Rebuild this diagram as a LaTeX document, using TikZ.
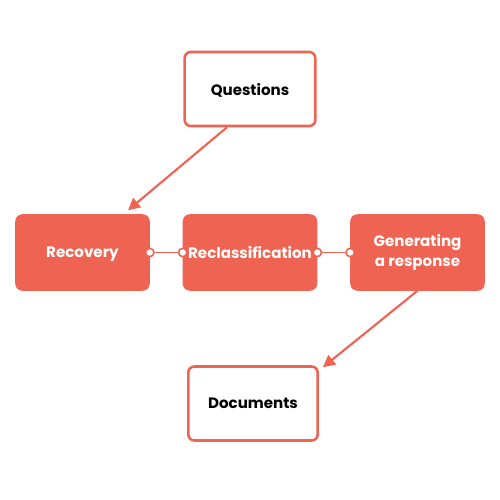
\documentclass[tikz,border=0pt]{standalone}
\usepackage{fontspec}
\setmainfont{Poppins}
\usepackage{xcolor}
\usetikzlibrary{positioning,arrows.meta,calc}
\definecolor{coral}{RGB}{238,99,82}

\begin{document}
\begin{tikzpicture}[
  x=0.75pt, y=-0.75pt,
  font=\fontsize{11.3}{14.5}\selectfont\bfseries,
  solid/.style={draw=coral,fill=coral,line width=1.9pt,rounded corners=4.5pt,
                minimum width=99pt,minimum height=55.5pt,inner sep=0pt,
                text=white,align=center},
  outline/.style={draw=coral,fill=white,line width=1.9pt,rounded corners=4.5pt,
                  minimum width=98pt,minimum height=55.5pt,inner sep=0pt,
                  text=black,align=center,text depth=0pt},
  flow/.style={draw=coral,line width=1.6pt,-{Triangle[length=9pt,width=9pt]}},
  dot/.style={circle,draw=coral,fill=white,line width=1.2pt,inner sep=0pt,
              minimum size=6.3pt},
  link/.style={draw=coral,line width=1.4pt}]
  \useasboundingbox (0,0) rectangle (500,500);
  % --- top question box ---
  \node[outline] (q) at (250,89) {Questions};
  % --- the three stages in a row ---
  \node[solid,text depth=0pt] (rec) at (82.5,252.5) {Recovery};
  \node[solid,text depth=0pt] (rcl) at (250,252.5) {Reclassification};
  \node[solid] (gen) at (417.5,252.5) {Generating\\a response};
  % --- joints between the stages ---
  \node[dot] (j1) at (rec.east) {};
  \node[dot] (j2) at (rcl.west) {};
  \node[dot] (j3) at (rcl.east) {};
  \node[dot] (j4) at (gen.west) {};
  \draw[link] (j1) -- (j2);
  \draw[link] (j3) -- (j4);
  % --- output box ---
  \node[outline,minimum width=97pt] (doc) at (253,403.5) {Documents};
  \draw[flow] ($(q.south)+(-23,0)$) -- ($(rec.north)+(45.5,-4)$);
  \draw[flow] (gen.south) -- ($(doc.north east)+(4,2)$);
\end{tikzpicture}
\end{document}
